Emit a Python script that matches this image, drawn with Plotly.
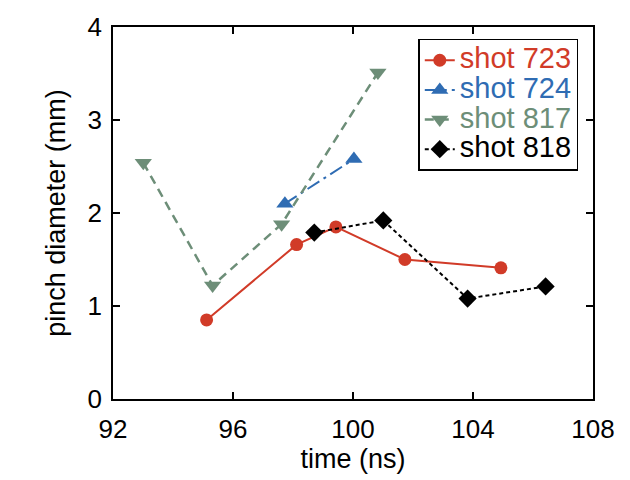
import plotly.graph_objects as go

t723 = [95.12, 98.12, 99.43, 101.73, 104.93]
d723 = [0.85, 1.66, 1.85, 1.50, 1.41]
t724 = [97.73, 100.03]
d724 = [2.10, 2.58]
t817 = [93.01, 95.32, 97.62, 100.83]
d817 = [2.54, 1.22, 1.88, 3.51]
t818 = [98.71, 101.01, 103.82, 106.42]
d818 = [1.79, 1.92, 1.08, 1.21]

RED = "#d13b28"
BLUE = "#2f6cb3"
GREEN = "#6d8e78"
BLACK = "#000000"
FONT = "Liberation Sans, Arial, Helvetica, sans-serif"


def lab(text, color):
    return f'<span style="color:{color};font-size:29px">{text}</span>'


fig = go.Figure()
fig.add_trace(go.Scatter(x=t723, y=d723, mode="lines+markers",
    name=lab("shot 723", RED),
    line=dict(color=RED, width=2), marker=dict(symbol="circle", size=13, color=RED)))
fig.add_trace(go.Scatter(x=t724, y=d724, mode="lines+markers",
    name=lab("shot 724", BLUE),
    line=dict(color=BLUE, width=2, dash="14px,5px,3px,5px"), marker=dict(symbol="triangle-up", size=15, color=BLUE)))
fig.add_trace(go.Scatter(x=t817, y=d817, mode="lines+markers",
    name=lab("shot 817", GREEN),
    line=dict(color=GREEN, width=2.5, dash="9px,6px"), marker=dict(symbol="triangle-down", size=15, color=GREEN)))
fig.add_trace(go.Scatter(x=t818, y=d818, mode="lines+markers",
    name=lab("shot 818", BLACK),
    line=dict(color=BLACK, width=2, dash="4px,3px"), marker=dict(symbol="diamond", size=14, color=BLACK)))

axis_common = dict(showline=True, linecolor="black", linewidth=1.5, mirror="ticks",
                   ticks="inside", ticklen=7, tickwidth=1.5, tickcolor="black",
                   showgrid=False, zeroline=False,
                   tickfont=dict(size=26, color="black", family=FONT))

fig.update_layout(
    width=630, height=480,
    margin=dict(l=113, r=37, t=18, b=81),
    paper_bgcolor="white", plot_bgcolor="white",
    font=dict(family=FONT, size=26, color="black"),
    xaxis=dict(range=[92, 108], tickvals=[92, 96, 100, 104, 108], ticklabelstandoff=6,
               title=dict(text="time (ns)", font=dict(size=27), standoff=4), **axis_common),
    yaxis=dict(range=[0, 4], tickvals=[0, 1, 2, 3, 4], ticklabelstandoff=4,
               title=dict(text="pinch diameter (mm)", font=dict(size=27), standoff=14), **axis_common),
    legend=dict(x=0.636, y=0.968, xanchor="left", yanchor="top",
                bordercolor="black", borderwidth=1.5, bgcolor="white",
                font=dict(size=20.5, family=FONT), itemwidth=30, tracegroupgap=0),
    showlegend=True,
)

fig.write_html("out.html")
